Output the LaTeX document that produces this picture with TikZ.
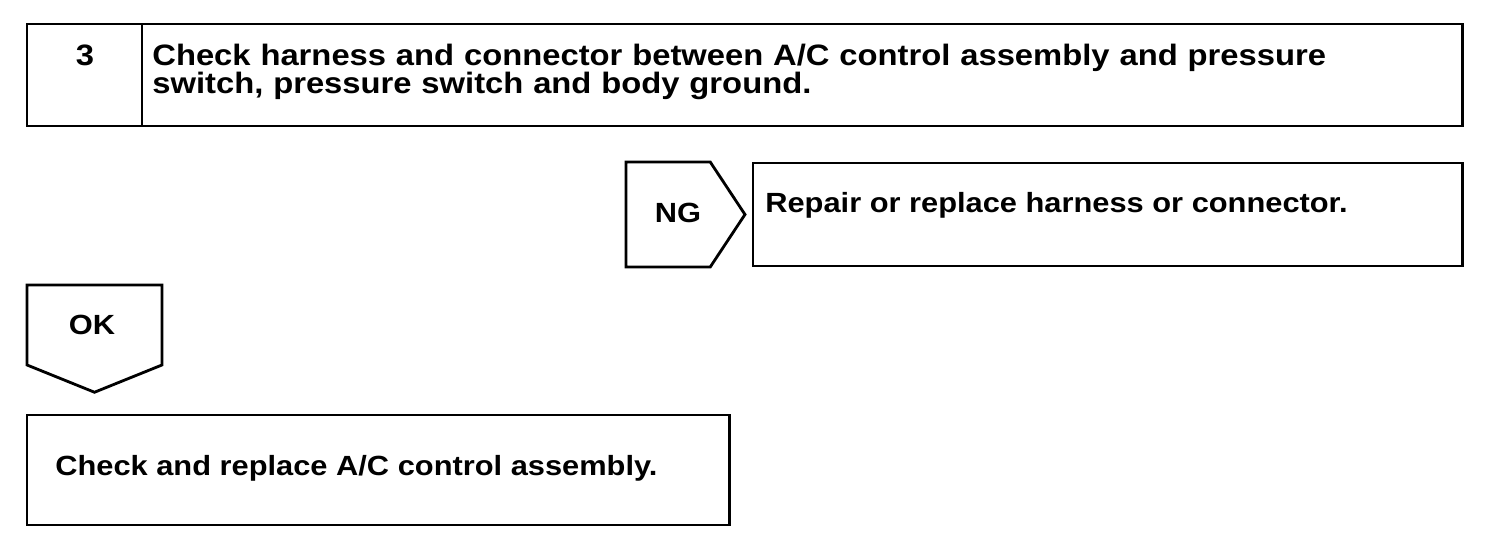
\documentclass[tikz,border=0pt]{standalone}
\usepackage{fontspec}
\setmainfont{Liberation Sans}[FakeStretch=1.11]
\usetikzlibrary{shapes.symbols,positioning}
\newcommand\tightlines{\lineskiplimit=-20pt\relax}
\tikzstyle{block} = [rectangle, draw, line width=1.6pt, inner sep=0pt, outer sep=0pt, anchor=north west]
\tikzstyle{tag} = [signal, draw, line width=1.6pt, inner sep=0pt, outer sep=0pt]
\tikzstyle{txt} = [font=\bfseries\fontsize{15.8}{14.2}\selectfont, inner sep=0pt]
\tikzstyle{head} = [font=\bfseries\fontsize{16.8}{15.6}\selectfont\tightlines, inner sep=0pt]

\begin{document}
\begin{tikzpicture}[x=0.02cm, y=-0.02cm]
\useasboundingbox (0,0) rectangle (1504,540);
% Place nodes
\node [block, minimum width=2.3cm, minimum height=2.04cm] (b1) at (27,24) {};
\node [block, minimum width=26.42cm, minimum height=2.04cm] (b2) at (b1.north east) {};
\node [head, anchor=base] (t1) at (85,66) {3};
\node [head, anchor=base west, text width=26cm, align=left] (t2) at (152,66) {Check harness and connector between A/C control assembly and pressure\\switch, pressure switch and body ground.};

\node [tag, signal to=east, signal pointer angle=113, minimum width=2.38cm, minimum height=2.1cm, anchor=west] (ng) at (626,214.5) {};
\node [txt, anchor=base] (ngt) at (678,223) {NG};
\node [block, minimum width=14.2cm, minimum height=2.06cm] (b3) at (753,163) {};
\node [txt, anchor=base west] (t3) at (765,213) {Repair or replace harness or connector.};

\node [tag, signal to=south, signal pointer angle=136, minimum width=2.7cm, minimum height=1.6cm, anchor=north] (ok) at (94.5,285) {};
\node [txt, anchor=base] (okt) at (92,335) {OK};
\node [block, minimum width=14.06cm, minimum height=2.2cm] (b4) at (27,415) {};
\node [txt, anchor=base west] (t4) at (55,475) {Check and replace A/C control assembly.};
\end{tikzpicture}
\end{document}
